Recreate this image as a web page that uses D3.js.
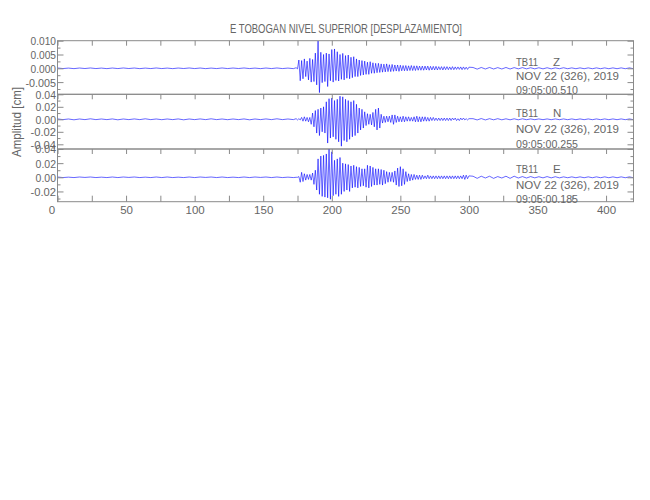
<!DOCTYPE html>
<html><head><meta charset="utf-8">
<script src="https://cdn.jsdelivr.net/npm/d3@7"></script>
<style>body{margin:0;background:#fff}</style>
</head><body>
<script>
// ---------------- data ----------------
const title = "E TOBOGAN NIVEL SUPERIOR [DESPLAZAMIENTO]";
const yTitle = "Amplitud [cm]";
const xTickValues = [0, 50, 100, 150, 200, 250, 300, 350, 400];
const xTickLabels = ["0", "50", "100", "150", "200", "250", "300", "350", "400"];
const xMinorTicks = [25, 75, 125, 175, 225, 275, 325, 375];
const xDomain = [0, 420];
const station = "TB11";
const channels = ["Z", "N", "E"];
const dateLabel = "NOV 22 (326), 2019";
const startTimes = ["09:05:00.510", "09:05:00.255", "09:05:00.185"];

const yDomains = [[-0.00942, 0.010], [-0.0475, 0.04], [-0.0345, 0.04]];
const yMajor = [[0.010, 0.005, 0, -0.005], [0.04, 0.02, 0, -0.02, -0.04], [0.04, 0.02, 0, -0.02]];
const yMajorLabels = [["0.010", "0.005", "0.000", "-0.005"], ["0.04", "0.02", "0.00", "-0.02", "-0.04"], ["0.04", "0.02", "0.00", "-0.02"]];
const yMinor = [[0.0075, 0.0025, -0.0025, -0.0075], [0.03, 0.01, -0.01, -0.03], [0.03, 0.01, -0.01, -0.03]];

// amplitude units of the peak lists below (cm)
const ampUnits = [1e-4, 1e-3, 1e-3];
// sample clocks (s) of the peak lists
const preStart = 0, preStep = 4;
const mainStart = 174, mainStep = 1;
const tailStart = 303, tailStep = 3;

// Z component peaks
const zPre = [1.2,-1,0.8,-1.2,1,-0.8,1.2,-1,0.8,-1.2,1,-1,1.2,-0.8,1,-1.2,0.8,-1,1.2,-1,0.8,-1.2,1,-0.8,1.2,-1,1,-1.2,0.8,-1,1.2,-1,1,-0.8,1.2,-1,0.8,-1.2,1,-1,1.2,-1,0.8,-1.2];
const zMain = [2,-2,30,-45,28,-38,34,-30,26,-42,36,-50,32,-48,55,-60,99,-88,58,-52,
  50,-48,55,-66,52,-45,68,-50,70,-44,60,-46,50,-40,54,-42,46,-36,48,-38,
  40,-34,42,-30,34,-30,30,-26,28,-24,26,-22,22,-22,24,-18,20,-18,18,-16,
  18,-15,16,-14,15,-13,16,-12,13,-12,14,-11,12,-10,12,-11,11,-9,10,-9,
  10,-9,9,-8,10,-8,9,-8,9,-7,8,-7,8,-7,8,-6,8,-7,7,-6,
  7,-6,7,-6,6,-5,6,-6,6,-5,6,-5,5,-5,6,-5,5,-4,5,-4,
  5,-5,5,-4,4,-4,4];
const zTail = [3,-3,3,-2.5,3,-2.5,2.5,-2.5,3,-2.5,2.5,-2,2.5,-2,2,-2,2,-2,2,-2,1.5,-1.5,2,-1.5,1.5,-1.5,1.5,-1.5,1.5,-1.5,1.5,-1.5,1.5,-1.5,1.5,-1.5,1.5,-1.5,1.5,-1.5];

// N component peaks
const nPre = [0.6,-0.5,0.5,-0.8,0.5,-0.5,0.8,-0.5,0.5,-0.5,0.6,-0.8,0.5,-0.5,0.6,-0.5,0.8,-0.5,0.5,-0.6,0.5,-0.5,0.6,-0.8,0.5,-0.5,0.6,-0.5,0.8,-0.5,0.5,-0.6,0.5,-0.5,0.6,-0.8,0.5,-0.5,0.6,-0.5,0.8,-0.5,0.5,-0.5];
const nMain = [1,-1,1,-1,3,-3,4,-3,3,-4,3,-8,10,-12,14,-22,16,-26,18,-20,
  20,-22,28,-38,33,-30,34,-28,30,-32,32,-36,37,-43,36,-34,32,-36,30,-32,
  28,-28,30,-26,24,-22,18,-17,16,-14,12,-10,9,-8,8,-9,11,-12,16,-17,
  18,-14,8,-6,5,-5,5,-4,5,-5,7,-8,7,-5,5,-4,4,-4,5,-4,
  4,-3,4,-3,3,-3,4,-4,5,-4,4,-4,4,-3,4,-3,3,-3,3,-2,
  3,-2,2,-2,2,-2,2,-2,2,-2,2,-2,2,-2,2,-1,2,-2,1,-2,
  2,-1,2,-1,1,-1,1];
const nTail = [1,-1,1.2,-1,1,-0.8,1,-0.8,0.8,-0.8,0.8,-0.8,0.8,-0.6,0.6,-0.6,0.6,-0.6,0.6,-0.6,0.6,-0.6,0.6,-0.6,0.6,-0.6,0.6,-0.6,0.6,-0.6,0.6,-0.6,0.6,-0.6,0.6,-0.6,0.6,-0.6,0.6,-0.6];

// E component peaks
const ePre = [0.4,-0.4,0.2,-0.4,0.4,-0.2,0.4,-0.4,0.2,-0.4,0.4,-0.4,0.4,-0.2,0.4,-0.4,0.2,-0.4,0.4,-0.4,0.4,-0.4,0.2,-0.4,0.4,-0.4,0.4,-0.2,0.4,-0.4,0.4,-0.4,0.2,-0.4,0.4,-0.4,0.4,-0.2,0.4,-0.4,0.4,-0.4,0.2,-0.4];
const eMain = [0,0,1,-7,7,-6,5,-4,4,-3,4,-4,6,-10,10,-18,26,-24,30,-27,
  31,-28,33,-29,40,-31,36,-26,24,-24,26,-27,28,-24,20,-20,19,-18,18,-20,
  16,-15,17,-14,15,-15,14,-13,12,-12,12,-14,17,-15,16,-13,14,-11,12,-11,
  12,-10,11,-11,10,-9,8,-7,7,-6,7,-7,9,-11,13,-13,15,-12,12,-10,
  8,-6,5,-5,4,-4,4,-3,3,-3,3,-3,3,-2,2,-2,3,-2,2,-2,
  2,-2,2,-2,2,-2,2,-2,2,-2,2,-2,2,-2,2,-2,2,-2,2,-2,
  2,-2,3,-3,3,-2,2];
const eTail = [1.5,-1.5,1.5,-1,1.5,-1.5,1,-1,1.5,-1.5,1.5,-1,1,-1,1,-0.8,0.8,-0.8,1,-0.8,0.8,-0.8,0.6,-0.6,0.6,-0.6,0.6,-0.6,0.6,-0.6,0.6,-0.6,0.6,-0.6,0.6,-0.6,0.6,-0.6,0.6,-0.6];

const peakSets = [[zPre, zMain, zTail], [nPre, nMain, nTail], [ePre, eMain, eTail]];

// ---------------- layout ----------------
const W = 650, H = 500;
const plotLeft = 57.5, plotRight = 633.5;
const panelTop = [40.7, 94.3, 149];
const panelBottom = [94.3, 149, 201.7];
const annBaselines = [[65.5, 80, 94], [117, 133, 148], [173, 188.5, 202.5]];
const axisColor = "#8a8a8a", textColor = "#666";
const fontFam = "'Liberation Sans',Arial,sans-serif";

const svg = d3.select("body").append("svg").attr("width", W).attr("height", H)
  .style("font-family", fontFam);

const x = d3.scaleLinear().domain(xDomain).range([plotLeft, plotRight]);

function buildSeries(sets, unit) {
  const [pre, main, tail] = sets;
  const pts = [];
  pre.forEach((v, i) => pts.push([preStart + i * preStep, v * unit]));
  main.forEach((v, i) => pts.push([mainStart + i * mainStep, v * unit]));
  tail.forEach((v, i) => pts.push([tailStart + i * tailStep, v * unit]));
  pts.push([xDomain[1], 0]);
  return pts;
}

function fitText(sel, len) {
  sel.attr("textLength", len).attr("lengthAdjust", "spacingAndGlyphs");
}

channels.forEach((ch, p) => {
  const y = d3.scaleLinear().domain(yDomains[p]).range([panelBottom[p], panelTop[p]]);
  const g = svg.append("g");
  const data = buildSeries(peakSets[p], ampUnits[p]);
  const line = d3.line().x(d => x(d[0])).y(d => y(d[1]));
  g.append("path").datum(data).attr("d", line)
    .attr("fill", "none").attr("stroke", "#0000ff").attr("stroke-width", 0.6);

  // frame
  g.append("rect").attr("x", plotLeft).attr("y", panelTop[p])
    .attr("width", plotRight - plotLeft).attr("height", panelBottom[p] - panelTop[p])
    .attr("fill", "none").attr("stroke", axisColor).attr("stroke-width", 1);

  // left axis
  const left = d3.axisLeft(y).tickValues(yMajor[p]).tickSize(-6).tickPadding(2)
    .tickFormat((d, i) => yMajorLabels[p][i]);
  const la = g.append("g").attr("transform", `translate(${plotLeft},0)`).call(left);
  g.append("g").attr("transform", `translate(${plotLeft},0)`)
    .call(d3.axisLeft(y).tickValues(yMinor[p]).tickSize(-3).tickFormat(""));
  // right axis
  g.append("g").attr("transform", `translate(${plotRight},0)`)
    .call(d3.axisRight(y).tickValues(yMajor[p]).tickSize(-6).tickFormat(""));
  g.append("g").attr("transform", `translate(${plotRight},0)`)
    .call(d3.axisRight(y).tickValues(yMinor[p]).tickSize(-3).tickFormat(""));
  // top ticks of each panel
  g.append("g").attr("transform", `translate(0,${panelTop[p]})`)
    .call(d3.axisTop(x).tickValues(xTickValues.concat(xMinorTicks)).tickSize(-5).tickFormat(""));

  la.selectAll("text").attr("x", -1.5).attr("dy", "0.36em")
    .style("font-size", "11px").attr("fill", textColor)
    .each(function() {
      const t = d3.select(this).text();
      fitText(d3.select(this), t.length * 5.1 + (t.startsWith("-") ? 0 : 0));
    });

  // annotations
  g.append("text").attr("x", 516).attr("y", annBaselines[p][0]).text(station)
    .attr("fill", textColor).style("font-size", "11.5px").call(fitText, 22);
  g.append("text").attr("x", 553).attr("y", annBaselines[p][0]).text(ch)
    .attr("fill", textColor).style("font-size", "11.5px");
  g.append("text").attr("x", 516).attr("y", annBaselines[p][1]).text(dateLabel)
    .attr("fill", textColor).style("font-size", "11.5px").call(fitText, 103);
  g.append("text").attr("x", 516).attr("y", annBaselines[p][2]).text(startTimes[p])
    .attr("fill", textColor).style("font-size", "11.5px").call(fitText, 62);
});

// bottom x axis
const bottom = d3.axisBottom(x).tickValues(xTickValues).tickSize(-6).tickPadding(4)
  .tickFormat((d, i) => xTickLabels[i]);
const ba = svg.append("g").attr("transform", `translate(0,${panelBottom[2]})`).call(bottom);
svg.append("g").attr("transform", `translate(0,${panelBottom[2]})`)
  .call(d3.axisBottom(x).tickValues(xMinorTicks).tickSize(-6).tickFormat(""));
ba.selectAll("text").attr("fill", textColor).style("font-size", "11.5px")
  .attr("y", 4).attr("dy", "0.71em")
  .attr("dx", d => d === 0 ? -6 : 0);

svg.selectAll(".domain").attr("stroke", "none");
svg.selectAll(".tick line").attr("stroke", axisColor);

// title
svg.append("text").attr("x", 346).attr("y", 33).attr("text-anchor", "middle")
  .text(title).attr("fill", textColor).style("font-size", "13px").call(fitText, 232);

// y title
svg.append("text").attr("transform", "translate(21,122) rotate(-90)")
  .attr("text-anchor", "middle").text(yTitle).attr("fill", textColor)
  .style("font-size", "12.5px").call(fitText, 70);
</script>
</body></html>
